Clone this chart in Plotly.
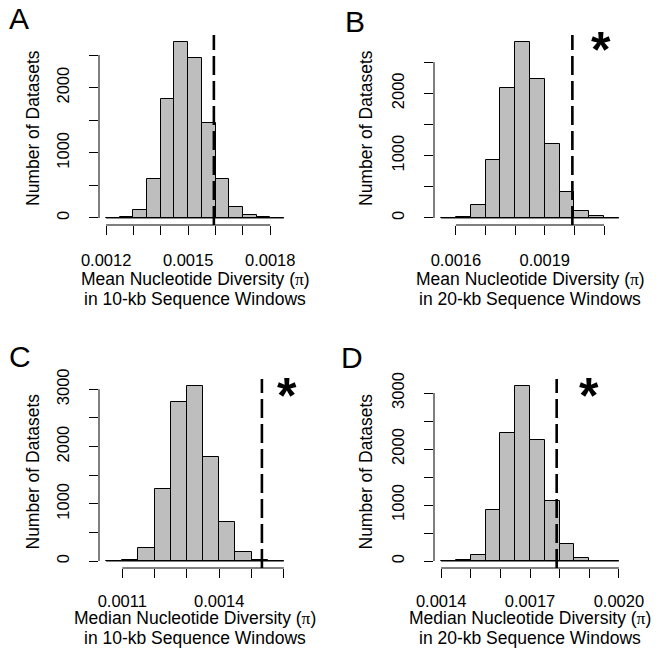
import plotly.graph_objects as go

# ---------------- data ----------------
BIN_WIDTH = 0.00005

a_bin_left = [0.00120, 0.00125, 0.00130, 0.00135, 0.00140, 0.00145, 0.00150,
              0.00155, 0.00160, 0.00165, 0.00170, 0.00175, 0.00180]
a_counts = [0, 8, 123, 596, 1825, 2699, 2447, 1460, 596, 175, 51, 8, 0]
a_observed = 0.001594
a_xticks = [0.0012, 0.0013, 0.0014, 0.0015, 0.0016, 0.0017, 0.0018]
a_xticklabels = ["0.0012", "", "", "0.0015", "", "", "0.0018"]
a_yticks = [0, 500, 1000, 1500, 2000, 2500]
a_yticklabels = ["0", "", "1000", "", "2000", ""]

b_bin_left = [0.00155, 0.00160, 0.00165, 0.00170, 0.00175, 0.00180,
              0.00185, 0.00190, 0.00195, 0.00200, 0.00205, 0.00210]
b_counts = [0, 16, 204, 935, 2081, 2823, 2226, 1188, 409, 113, 27, 0]
b_observed = 0.001993
b_xticks = [0.0016, 0.0017, 0.0018, 0.0019, 0.0020, 0.0021]
b_xticklabels = ["0.0016", "", "", "0.0019", "", ""]
b_yticks = [0, 500, 1000, 1500, 2000, 2500]
b_yticklabels = ["0", "", "1000", "", "2000", ""]

c_bin_left = [0.00105, 0.00110, 0.00115, 0.00120, 0.00125, 0.00130,
              0.00135, 0.00140, 0.00145, 0.00150, 0.00155]
c_counts = [0, 23, 233, 1252, 2772, 3058, 1811, 676, 151, 17, 0]
c_observed = 0.001532
c_xticks = [0.0011, 0.0012, 0.0013, 0.0014, 0.0015, 0.0016]
c_xticklabels = ["0.0011", "", "", "0.0014", "", ""]
c_yticks = [0, 500, 1000, 1500, 2000, 2500, 3000]
c_yticklabels = ["0", "", "1000", "", "2000", "", "3000"]

d_bin_left = [0.00140, 0.00145, 0.00150, 0.00155, 0.00160, 0.00165,
              0.00170, 0.00175, 0.00180, 0.00185, 0.00190, 0.00195]
d_counts = [0, 12, 113, 903, 2293, 3125, 2163, 1064, 297, 48, 6, 0]
d_observed = 0.00179
d_xticks = [0.0014, 0.0015, 0.0016, 0.0017, 0.0018, 0.0019, 0.0020]
d_xticklabels = ["0.0014", "", "", "0.0017", "", "", "0.0020"]
d_yticks = [0, 500, 1000, 1500, 2000, 2500, 3000]
d_yticklabels = ["0", "", "1000", "", "2000", "", "3000"]

panel_letters = ["A", "B", "C", "D"]
x_title_line1 = ["Mean Nucleotide Diversity", "Mean Nucleotide Diversity",
                 "Median Nucleotide Diversity", "Median Nucleotide Diversity"]
x_title_line2 = ["in 10-kb Sequence Windows", "in 20-kb Sequence Windows",
                 "in 10-kb Sequence Windows", "in 20-kb Sequence Windows"]
y_title = "Number of Datasets"
significant = [False, True, True, True]

# ---------------- layout constants ----------------
W, H = 660, 666
FONT = "Liberation Sans, Arial, Helvetica, sans-serif"
BAR_FILL = "#BEBEBE"
col_px = [(99, 291), (434, 626)]        # plot region left/right (px)
row_px = [(35, 225), (379, 568)]        # plot region top/bottom (px)
row_xlabel_standoff = [11, 9]


def px_x(p):
    return p / W


def px_y(p):
    return 1 - p / H


panels = [
    (a_bin_left, a_counts, a_observed, a_xticks, a_xticklabels, a_yticks, a_yticklabels),
    (b_bin_left, b_counts, b_observed, b_xticks, b_xticklabels, b_yticks, b_yticklabels),
    (c_bin_left, c_counts, c_observed, c_xticks, c_xticklabels, c_yticks, c_yticklabels),
    (d_bin_left, d_counts, d_observed, d_xticks, d_xticklabels, d_yticks, d_yticklabels),
]

fig = go.Figure()
shapes = []
annotations = []
layout_axes = {}

# positions of text (px)
letter_pos = [(19, 19), (355, 21), (20, 356), (352, 357)]
star_pos = [None, (601, 42), (287, 388), (589, 388)]
ytitle_x = [33, 366, 33, 366]
xtitle_y = [(279, 299), (279, 299), (618, 638), (618, 638)]

for i, (bins, counts, obs, xt, xtl, yt, ytl) in enumerate(panels):
    n = "" if i == 0 else str(i + 1)
    xa, ya = "x" + n, "y" + n
    col, row = i % 2, i // 2
    lo = bins[0]
    hi = bins[-1] + BIN_WIDTH
    pad = 0.04 * (hi - lo)
    ymax = max(counts)

    fig.add_trace(go.Bar(
        x=[b + BIN_WIDTH / 2 for b in bins], y=counts, width=BIN_WIDTH,
        marker=dict(color=BAR_FILL, line=dict(color="black", width=1)),
        xaxis=xa, yaxis=ya, showlegend=False, hoverinfo="x+y",
    ))

    common = dict(showgrid=False, zeroline=False, showline=False,
                  automargin=False,
                  ticks="outside", ticklen=9, tickwidth=1, tickcolor="black",
                  tickfont=dict(family=FONT, size=16.5, color="black"),
                  fixedrange=True)
    layout_axes["xaxis" + n] = dict(
        domain=[px_x(col_px[col][0]), px_x(col_px[col][1])],
        anchor=ya, range=[lo - pad, hi + pad],
        tickmode="array", tickvals=xt, ticktext=xtl, tickangle=0,
        ticklabelstandoff=row_xlabel_standoff[row], **common)
    layout_axes["yaxis" + n] = dict(
        domain=[px_y(row_px[row][1]), px_y(row_px[row][0])],
        anchor=xa, range=[-0.04 * ymax, 1.04 * ymax],
        tickmode="array", tickvals=yt, ticktext=ytl, tickangle=-90,
        ticklabelstandoff=13, **common)

    line = dict(color="black", width=1)
    # R-style axis lines spanning first to last tick
    shapes.append(dict(type="line", xref=xa, yref=ya + " domain",
                       x0=xt[0], x1=xt[-1], y0=0, y1=0, line=line))
    shapes.append(dict(type="line", xref=xa + " domain", yref=ya,
                       x0=0, x1=0, y0=yt[0], y1=yt[-1], line=line))
    # histogram baseline across all bins
    shapes.append(dict(type="line", xref=xa, yref=ya,
                       x0=lo, x1=hi, y0=0, y1=0, line=line))
    # observed value
    shapes.append(dict(type="line", xref=xa, yref=ya + " domain",
                       x0=obs, x1=obs, y0=0, y1=1,
                       line=dict(color="black", width=2.6, dash="19px,6px")))

    # panel letter
    lx, ly = letter_pos[i]
    annotations.append(dict(text=panel_letters[i], x=px_x(lx), y=px_y(ly),
                            xref="paper", yref="paper", showarrow=False,
                            xanchor="center", yanchor="middle",
                            font=dict(family=FONT, size=30, color="black")))
    # significance star
    if significant[i]:
        sx, sy = star_pos[i]
        annotations.append(dict(text="<b>*</b>", x=px_x(sx), y=px_y(sy + 8),
                                xref="paper", yref="paper", showarrow=False,
                                xanchor="center", yanchor="middle",
                                font=dict(family=FONT, size=50, color="black")))
    # y title
    cy = (row_px[row][0] + row_px[row][1]) / 2 - 2
    annotations.append(dict(text=y_title, x=px_x(ytitle_x[i]), y=px_y(cy),
                            xref="paper", yref="paper", showarrow=False,
                            textangle=-90, xanchor="center", yanchor="middle",
                            font=dict(family=FONT, size=17.5, color="black")))
    # x title (two lines)
    cx = (col_px[col][0] + col_px[col][1]) / 2
    l1 = x_title_line1[i] + ' (<span style="font-family:Liberation Serif">π</span>)'
    for txt, yy in zip([l1, x_title_line2[i]], xtitle_y[i]):
        annotations.append(dict(text=txt, x=px_x(cx), y=px_y(yy),
                                xref="paper", yref="paper", showarrow=False,
                                xanchor="center", yanchor="middle",
                                font=dict(family=FONT, size=17.5, color="black")))

fig.update_layout(
    template="none",
    width=W, height=H, autosize=False,
    margin=dict(l=0, r=0, t=0, b=0, pad=0),
    paper_bgcolor="white", plot_bgcolor="white",
    bargap=0, showlegend=False,
    shapes=shapes, annotations=annotations,
    **layout_axes,
)

fig.write_html("out.html",
               config={"displayModeBar": False},
               post_script="document.body.style.margin='0';"
                           "document.body.style.overflow='hidden';")
